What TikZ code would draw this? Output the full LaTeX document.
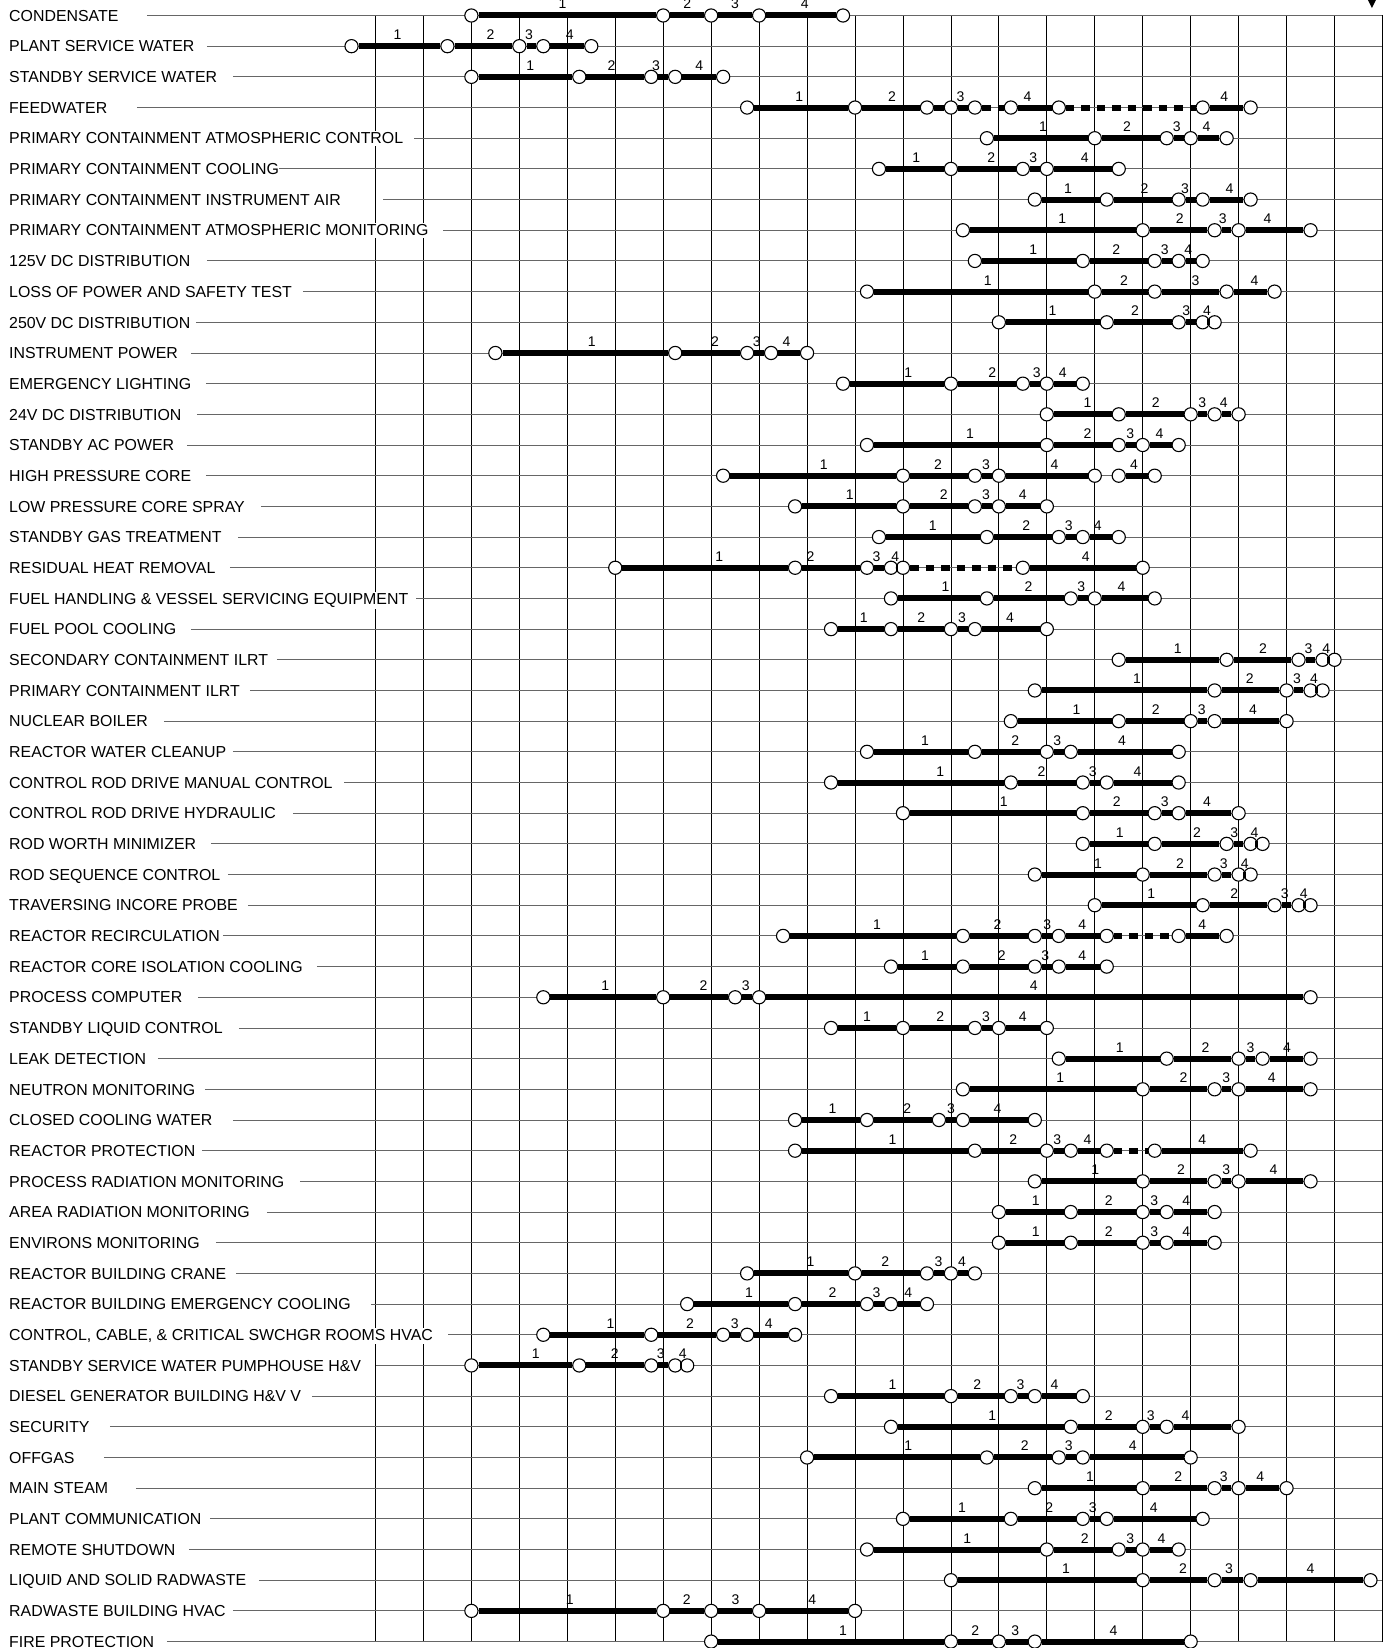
\documentclass[tikz,border=0pt]{standalone}
\usepackage{fontspec}
\setmainfont{Liberation Sans}
\tikzset{
	rowlab/.style={anchor=base west, fill=white, inner xsep=2pt, inner ysep=1.5pt, yshift=-5.7pt, font=\fontsize{15.9}{18}\selectfont},
	rowline/.style={draw=black!60, line width=0.9pt},
	gridline/.style={draw=black, line width=0.8pt},
	stage/.style={circle, draw=black, fill=white, line width=1.1pt, minimum size=13.2pt, inner sep=0pt},
	num/.style={anchor=base, inner sep=0pt, yshift=6.5pt, font=\fontsize{14}{16}\selectfont},
	segs/.style={line width=6pt},
	segd/.style={line width=6pt, dash pattern=on 8.5pt off 7pt},
	segn/.style={draw=none}
}
% one system row: index, name, start of its line (px), stages, bar kinds, numbers
\newcommand\sysrow[6]{%
	\node[rowlab] (l#1) at (-7.685,#1) {#2};
	\coordinate (s#1) at ({(#3-375.5)/47.95},#1);
	\coordinate (e#1) at (21,#1);
	\draw[rowline] (s#1) -- (e#1);
	\foreach \px [count=\ci] in {#4}
		\node[stage] (r#1-\ci) at (\px,#1) {};
	\foreach \kd [count=\ci] in {#5} {
		\pgfmathtruncatemacro\cn{\ci+1}
		\draw[seg\kd] (r#1-\ci) -- (r#1-\cn);
	}
	\foreach \nx/\nt [count=\ci] in {#6}
		\node[num] (n#1-\ci) at (\nx,#1) {\nt};
}
\begin{document}
\begin{tikzpicture}[x=47.95pt, y=-30.68pt]
	\useasboundingbox (-7.831,-0.505) rectangle (21.116,53.21);

	\foreach \gx in {0,...,21}
		\draw[gridline] (\gx,0) -- (\gx,53);
	\fill (20.697,-0.505) -- (20.864,-0.505) -- (20.78,-0.244) -- cycle;

	\sysrow{0}{CONDENSATE}{147}{2,6,7,8,9.75}{s,s,s,s}{3.9/1,6.5/2,7.5/3,8.95/4}
	\sysrow{1}{PLANT SERVICE WATER}{207}{-0.5,1.5,3,3.5,4.5}{s,s,s,s}{0.46/1,2.4/2,3.2/3,4.05/4}
	\sysrow{2}{STANDBY SERVICE WATER}{233}{2,4.25,5.75,6.25,7.25}{s,s,s,s}{3.23/1,4.92/2,5.85/3,6.75/4}
	\sysrow{3}{FEEDWATER}{137}{7.75,10,11.5,12,12.5,13.25,14.25,17.25,18.25}{s,s,s,s,d,s,d,s}{8.84/1,10.77/2,12.2/3,13.6/4,17.7/4}
	\sysrow{4}{PRIMARY CONTAINMENT ATMOSPHERIC CONTROL}{414}{12.75,15,16.5,17,17.75}{s,s,s,s}{13.92/1,15.67/2,16.71/3,17.33/4}
	\sysrow{5}{PRIMARY CONTAINMENT COOLING}{279}{10.5,12,13.5,14,15.5}{s,s,s,s}{11.28/1,12.84/2,13.72/3,14.79/4}
	\sysrow{6}{PRIMARY CONTAINMENT INSTRUMENT AIR}{383}{13.75,15.25,16.75,17.25,18.25}{s,s,s,s}{14.44/1,16.04/2,16.88/3,17.81/4}
	\sysrow{7}{PRIMARY CONTAINMENT ATMOSPHERIC MONITORING}{443}{12.25,16,17.5,18,19.5}{s,s,s,s}{14.32/1,16.77/2,17.67/3,18.6/4}
	\sysrow{8}{125V DC DISTRIBUTION}{207}{12.5,14.75,16.25,16.75,17.25}{s,s,s,s}{13.72/1,15.45/2,16.46/3,16.95/4}
	\sysrow{9}{LOSS OF POWER AND SAFETY TEST}{303}{10.25,15,16.25,17.75,18.75}{s,s,s,s}{12.77/1,15.61/2,17.1/3,18.33/4}
	\sysrow{10}{250V DC DISTRIBUTION}{196}{13,15.25,16.75,17.25,17.5}{s,s,s,s}{14.12/1,15.84/2,16.91/3,17.34/4}
	\sysrow{11}{INSTRUMENT POWER}{191}{2.5,6.25,7.75,8.25,9}{s,s,s,s}{4.51/1,7.08/2,7.95/3,8.57/4}
	\sysrow{12}{EMERGENCY LIGHTING}{206}{9.75,12,13.5,14,14.75}{s,s,s,s}{11.11/1,12.86/2,13.79/3,14.33/4}
	\sysrow{13}{24V DC DISTRIBUTION}{197}{14,15.5,17,17.5,18}{s,s,s,s}{14.85/1,16.27/2,17.24/3,17.69/4}
	\sysrow{14}{STANDBY AC POWER}{187}{10.25,14,15.5,16,16.75}{s,s,s,s}{12.4/1,14.85/2,15.74/3,16.35/4}
	\sysrow{15}{HIGH PRESSURE CORE}{206}{7.25,11,12.5,13,15,15.5,16.25}{s,s,s,s,n,s}{9.35/1,11.73/2,12.73/3,14.16/4,15.82/4}
	\sysrow{16}{LOW PRESSURE CORE SPRAY}{261}{8.75,11,12.5,13,14}{s,s,s,s}{9.89/1,11.85/2,12.73/3,13.5/4}
	\sysrow{17}{STANDBY GAS TREATMENT}{238}{10.5,12.75,14.25,14.75,15.5}{s,s,s,s}{11.62/1,13.57/2,14.46/3,15.06/4}
	\sysrow{18}{RESIDUAL HEAT REMOVAL}{230}{5,8.75,10.25,10.75,11,13.5,16}{s,s,s,s,d,s}{7.17/1,9.07/2,10.45/3,10.84/4,14.81/4}
	\sysrow{19}{FUEL HANDLING \& VESSEL SERVICING EQUIPMENT}{416}{10.75,12.75,14.5,15,16.25}{s,s,s,s}{11.89/1,13.62/2,14.72/3,15.56/4}
	\sysrow{20}{FUEL POOL COOLING}{191}{9.5,10.75,12,12.5,14}{s,s,s,s}{10.18/1,11.38/2,12.23/3,13.23/4}
	\sysrow{21}{SECONDARY CONTAINMENT ILRT}{277}{15.5,17.75,19.25,19.75,20}{s,s,s,s}{16.73/1,18.51/2,19.46/3,19.83/4}
	\sysrow{22}{PRIMARY CONTAINMENT ILRT}{250}{13.75,17.5,19,19.5,19.75}{s,s,s,s}{15.88/1,18.23/2,19.22/3,19.57/4}
	\sysrow{23}{NUCLEAR BOILER}{164}{13.25,15.5,17,17.5,19}{s,s,s,s}{14.62/1,16.27/2,17.23/3,18.3/4}
	\sysrow{24}{REACTOR WATER CLEANUP}{233}{10.25,12.5,14,14.5,16.75}{s,s,s,s}{11.46/1,13.34/2,14.22/3,15.57/4}
	\sysrow{25}{CONTROL ROD DRIVE MANUAL CONTROL}{344}{9.5,13.25,14.75,15.25,16.75}{s,s,s,s}{11.78/1,13.89/2,14.96/3,15.89/4}
	\sysrow{26}{CONTROL ROD DRIVE HYDRAULIC}{293}{11,14.75,16.25,16.75,18}{s,s,s,s}{13.1/1,15.46/2,16.46/3,17.34/4}
	\sysrow{27}{ROD WORTH MINIMIZER}{211}{14.75,16.25,17.75,18.25,18.5}{s,s,s,s}{15.52/1,17.13/2,17.91/3,18.33/4}
	\sysrow{28}{ROD SEQUENCE CONTROL}{228}{13.75,16,17.5,18,18.25}{s,s,s,s}{15.07/1,16.78/2,17.69/3,18.13/4}
	\sysrow{29}{TRAVERSING INCORE PROBE}{248}{15,17.25,18.75,19.25,19.5}{s,s,s,s}{16.18/1,17.91/2,18.96/3,19.36/4}
	\sysrow{30}{REACTOR RECIRCULATION}{223}{8.5,12.25,13.75,14.25,15.25,16.75,17.75}{s,s,s,s,d,s}{10.46/1,12.97/2,14.01/3,14.74/4,17.24/4}
	\sysrow{31}{REACTOR CORE ISOLATION COOLING}{317}{10.75,12.25,13.75,14.25,15.25}{s,s,s,s}{11.46/1,13.06/2,13.97/3,14.74/4}
	\sysrow{32}{PROCESS COMPUTER}{198}{3.5,6,7.5,8,19.5}{s,s,s,s}{4.79/1,6.84/2,7.72/3,13.73/4}
	\sysrow{33}{STANDBY LIQUID CONTROL}{239}{9.5,11,12.5,13,14}{s,s,s,s}{10.25/1,11.78/2,12.73/3,13.5/4}
	\sysrow{34}{LEAK DETECTION}{158}{14.25,16.5,18,18.5,19.5}{s,s,s,s}{15.52/1,17.31/2,18.25/3,19.01/4}
	\sysrow{35}{NEUTRON MONITORING}{205}{12.25,16,17.5,18,19.5}{s,s,s,s}{14.28/1,16.85/2,17.74/3,18.69/4}
	\sysrow{36}{CLOSED COOLING WATER}{233}{8.75,10.25,11.75,12.25,13.75}{s,s,s,s}{9.53/1,11.09/2,12/3,12.97/4}
	\sysrow{37}{REACTOR PROTECTION}{202}{8.75,12.5,14,14.5,15.25,16.25,18.25}{s,s,s,s,d,s}{10.78/1,13.3/2,14.22/3,14.85/4,17.24/4}
	\sysrow{38}{PROCESS RADIATION MONITORING}{300}{13.75,16,17.5,18,19.5}{s,s,s,s}{15.01/1,16.8/2,17.74/3,18.73/4}
	\sysrow{39}{AREA RADIATION MONITORING}{267}{13,14.5,16,16.5,17.5}{s,s,s,s}{13.77/1,15.29/2,16.24/3,16.91/4}
	\sysrow{40}{ENVIRONS MONITORING}{216}{13,14.5,16,16.5,17.5}{s,s,s,s}{13.77/1,15.29/2,16.24/3,16.91/4}
	\sysrow{41}{REACTOR BUILDING CRANE}{236}{7.75,10,11.5,12,12.5}{s,s,s,s}{9.07/1,10.63/2,11.74/3,12.23/4}
	\sysrow{42}{REACTOR BUILDING EMERGENCY COOLING}{371}{6.5,8.75,10.25,10.75,11.5}{s,s,s,s}{7.79/1,9.53/2,10.45/3,11.11/4}
	\sysrow{43}{CONTROL, CABLE, \& CRITICAL SWCHGR ROOMS HVAC}{448}{3.5,5.75,7.25,7.75,8.75}{s,s,s,s}{4.9/1,6.56/2,7.49/3,8.2/4}
	\sysrow{44}{STANDBY SERVICE WATER PUMPHOUSE H\&V}{376}{2,4.25,5.75,6.25,6.5}{s,s,s,s}{3.34/1,4.99/2,5.95/3,6.41/4}
	\sysrow{45}{DIESEL GENERATOR BUILDING H\&V V}{312}{9.5,12,13.25,13.75,14.75}{s,s,s,s}{10.78/1,12.55/2,13.45/3,14.16/4}
	\sysrow{46}{SECURITY}{110}{10.75,14.5,16,16.5,18}{s,s,s,s}{12.86/1,15.29/2,16.17/3,16.89/4}
	\sysrow{47}{OFFGAS}{104}{9,12.75,14.25,14.75,17}{s,s,s,s}{11.11/1,13.54/2,14.46/3,15.79/4}
	\sysrow{48}{MAIN STEAM}{136}{13.75,16,17.5,18,19}{s,s,s,s}{14.9/1,16.74/2,17.69/3,18.45/4}
	\sysrow{49}{PLANT COMMUNICATION}{210}{11,13.25,14.75,15.25,17.25}{s,s,s,s}{12.23/1,14.05/2,14.96/3,16.23/4}
	\sysrow{50}{REMOTE SHUTDOWN}{189}{10.25,14,15.5,16,16.75}{s,s,s,s}{12.34/1,14.79/2,15.74/3,16.39/4}
	\sysrow{51}{LIQUID AND SOLID RADWASTE}{259}{12,16,17.5,18.25,20.75}{s,s,s,s}{14.4/1,16.84/2,17.8/3,19.5/4}
	\sysrow{52}{RADWASTE BUILDING HVAC}{233}{2,6,7,8,10}{s,s,s,s}{4.05/1,6.49/2,7.51/3,9.11/4}
	\sysrow{53}{FIRE PROTECTION}{167}{7,12,13,13.75,17}{s,s,s,s}{9.75/1,12.51/2,13.34/3,15.39/4}
\end{tikzpicture}
\end{document}
